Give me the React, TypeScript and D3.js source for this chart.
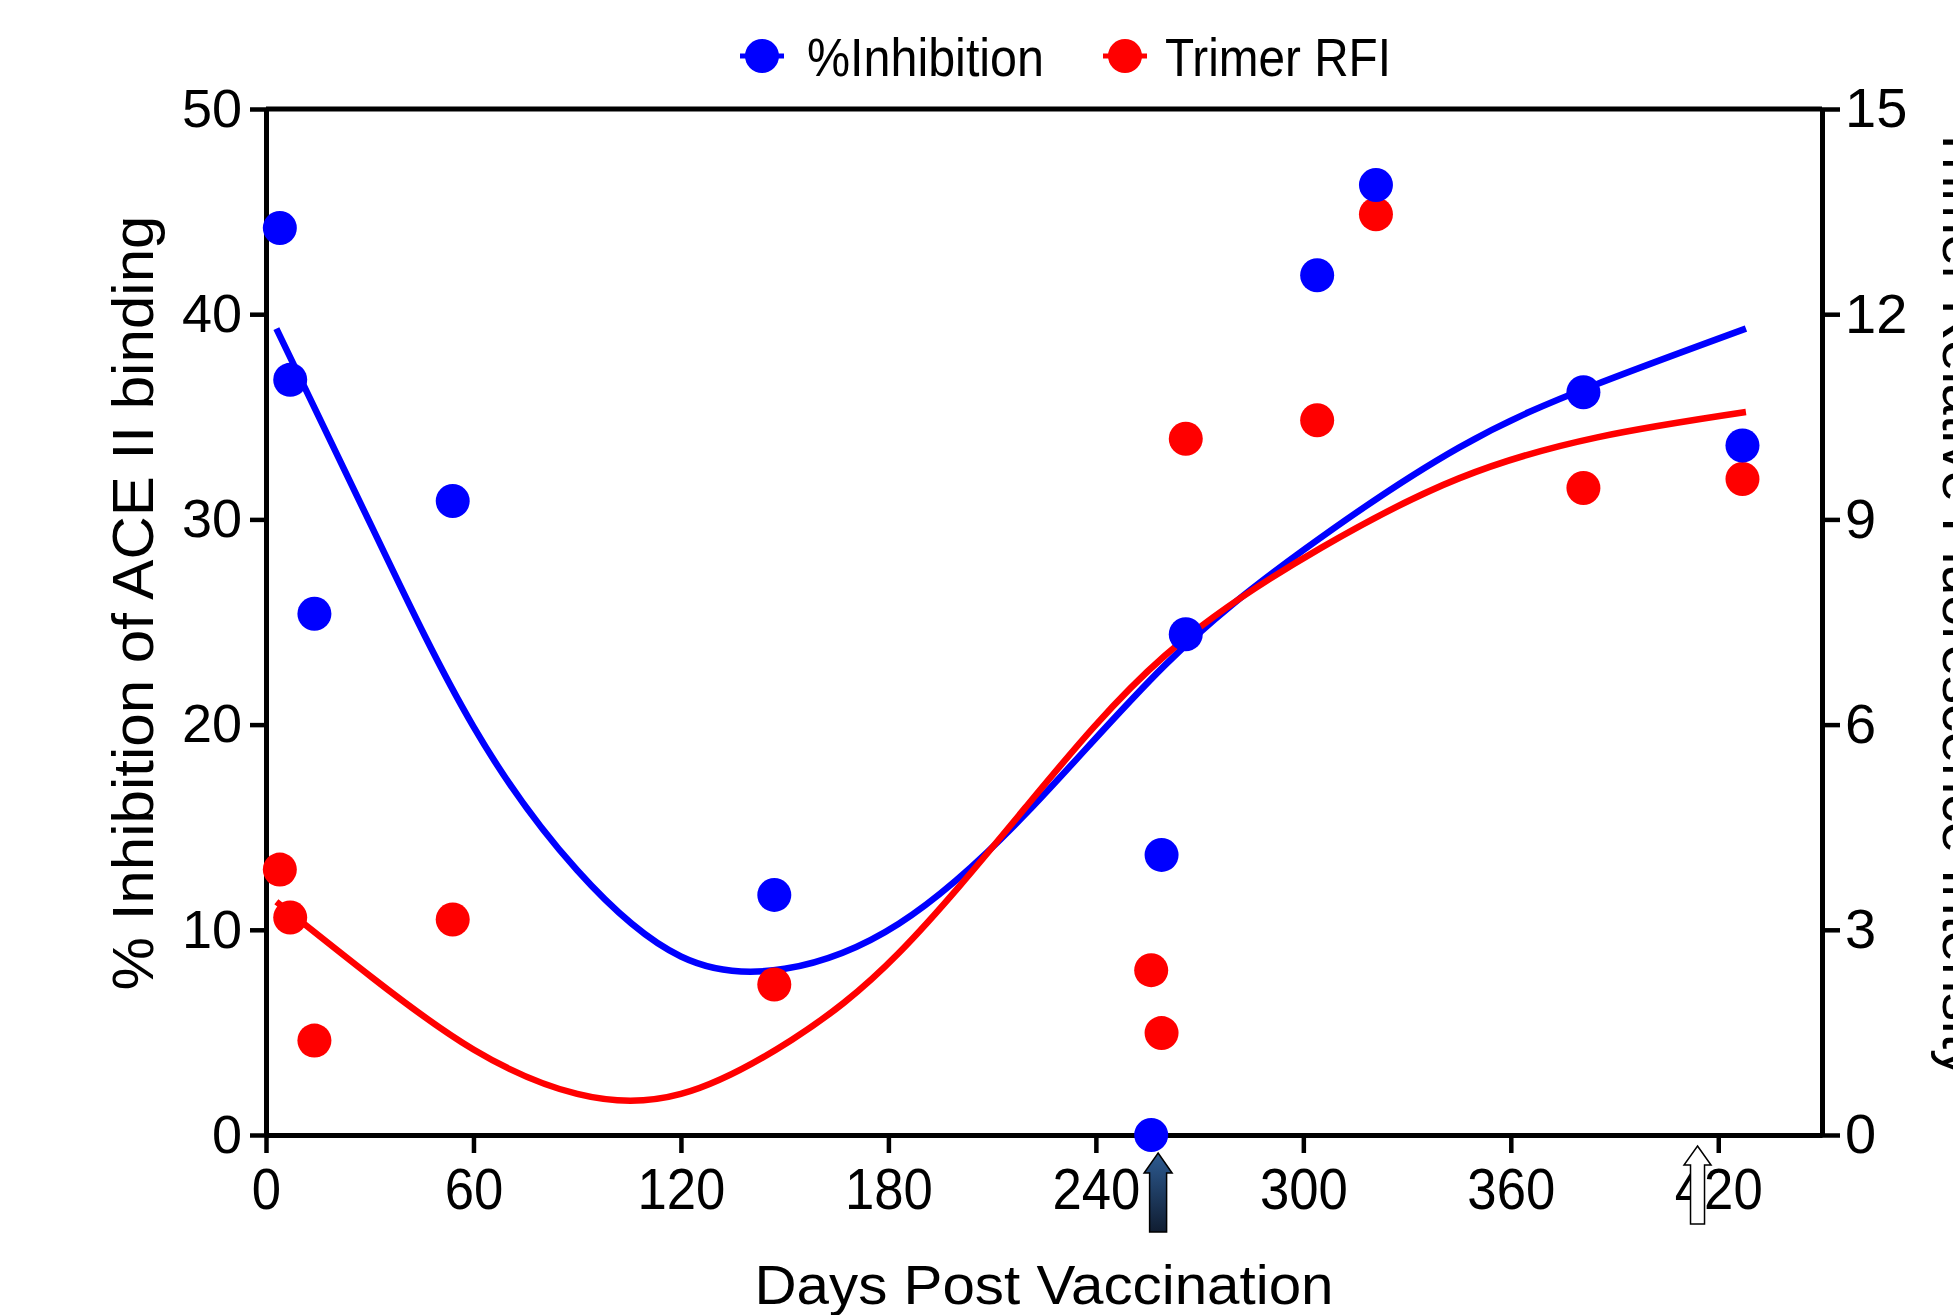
import { useEffect, useRef } from 'react';
import * as d3 from 'd3';

// measured points (days post vaccination)
const pointDays = [4, 7, 14, 54, 147, 256, 259, 266, 304, 321, 381, 427];
const inhibition = [44.2, 36.8, 25.4, 30.9, 11.7, 0, 13.65, 24.4, 41.9, 46.3, 36.2, 33.6];
const trimerRFI = [3.88, 3.18, 1.38, 3.15, 2.2, 2.41, 1.49, 10.18, 10.45, 13.46, 9.46, 9.59];

// fitted curves
const inhFitDays = [3, 31, 60, 90, 120, 150, 183, 220, 260, 300, 345, 385, 428];
const inhFitVals = [39.3, 29.5, 19.9, 12.9, 8.7, 8.1, 10.3, 15.7, 22.9, 28.5, 33.5, 36.6, 39.3];
const rfiFitDays = [3, 31, 60, 90, 120, 152, 183, 220, 260, 305, 345, 385, 428];
const rfiFitVals = [3.41, 2.29, 1.25, 0.6, 0.6, 1.39, 2.66, 4.81, 7.01, 8.58, 9.6, 10.2, 10.57];

// arrows under the x axis (booster doses)
const arrowDays = [258, 414];

const xTicks = [0, 60, 120, 180, 240, 300, 360, 420];
const leftTicks = [0, 10, 20, 30, 40, 50];
const rightTicks = [0, 3, 6, 9, 12, 15];

const FONT = '"Liberation Sans", Arial, Helvetica, sans-serif';
const BLUE = '#0000ff';
const RED = '#ff0000';

const App = () => {
  const ref = useRef<SVGSVGElement>(null);

  useEffect(() => {
    const svg = d3.select(ref.current);
    svg.selectAll('*').remove();

    const left = 266, right = 1822, top = 109, bottom = 1135;

    const x = d3.scaleLinear().domain([0, 450]).range([left, right]);
    const yL = d3.scaleLinear().domain([0, 50]).range([bottom, top]);
    const yR = d3.scaleLinear().domain([0, 15]).range([bottom, top]);

    const defs = svg.append('defs');
    const grad = defs.append('linearGradient').attr('id', 'arrowGrad')
      .attr('x1', 0).attr('y1', 0).attr('x2', 0).attr('y2', 1);
    grad.append('stop').attr('offset', '0%').attr('stop-color', '#2d5b92');
    grad.append('stop').attr('offset', '100%').attr('stop-color', '#101d31');

    // top frame line
    svg.append('line')
      .attr('x1', left).attr('x2', right).attr('y1', top).attr('y2', top)
      .attr('stroke', '#000').attr('stroke-width', 5);

    // left axis
    const gL = svg.append('g').attr('transform', `translate(${left},0)`)
      .call(d3.axisLeft(yL).tickValues(leftTicks).tickSize(16).tickSizeOuter(0).tickPadding(8));
    gL.select('.domain').attr('stroke-width', 5);
    gL.selectAll('.tick line').attr('stroke-width', 4.5);
    gL.selectAll('.tick text').style('font-family', FONT).style('font-size', '54px').attr('fill', '#000');

    // right axis
    const gR = svg.append('g').attr('transform', `translate(${right},0)`)
      .call(d3.axisRight(yR).tickValues(rightTicks).tickSize(18).tickSizeOuter(0).tickPadding(5));
    gR.select('.domain').attr('stroke-width', 5);
    gR.selectAll('.tick line').attr('stroke-width', 4.5);
    gR.selectAll('.tick text').style('font-family', FONT).style('font-size', '56px').attr('fill', '#000');

    // bottom axis
    const gX = svg.append('g').attr('transform', `translate(0,${bottom})`)
      .call(d3.axisBottom(x).tickValues(xTicks).tickSize(18).tickSizeOuter(0).tickPadding(15).tickFormat(d3.format('d')));
    gX.select('.domain').attr('stroke-width', 5);
    gX.selectAll('.tick line').attr('stroke-width', 4.5);
    gX.selectAll<SVGTextElement, number>('.tick text')
      .style('font-family', FONT).style('font-size', '58px').attr('fill', '#000')
      .attr('textLength', d => String(d).length * 29.3)
      .attr('lengthAdjust', 'spacingAndGlyphs');

    // fit curves
    const inhLine = d3.line<number>()
      .x((d, i) => x(inhFitDays[i]))
      .y(d => yL(d))
      .curve(d3.curveNatural);
    const rfiLine = d3.line<number>()
      .x((d, i) => x(rfiFitDays[i]))
      .y(d => yR(d))
      .curve(d3.curveNatural);

    svg.append('path').attr('d', inhLine(inhFitVals))
      .attr('fill', 'none').attr('stroke', BLUE).attr('stroke-width', 6.5);
    svg.append('path').attr('d', rfiLine(rfiFitVals))
      .attr('fill', 'none').attr('stroke', RED).attr('stroke-width', 6.5);

    // points: red first, blue on top
    svg.append('g').selectAll('circle').data(trimerRFI).enter().append('circle')
      .attr('cx', (d, i) => x(pointDays[i]))
      .attr('cy', d => yR(d))
      .attr('r', 17)
      .attr('fill', RED);
    svg.append('g').selectAll('circle').data(inhibition).enter().append('circle')
      .attr('cx', (d, i) => x(pointDays[i]))
      .attr('cy', d => yL(d))
      .attr('r', 17)
      .attr('fill', BLUE);

    // arrows
    const arrow = (cx: number, tip: number, end: number, headW: number, headH: number, shaftW: number) =>
      `M${cx},${tip} L${cx + headW},${tip + headH} L${cx + shaftW},${tip + headH} L${cx + shaftW},${end} ` +
      `L${cx - shaftW},${end} L${cx - shaftW},${tip + headH} L${cx - headW},${tip + headH} Z`;
    svg.append('path').attr('d', arrow(x(arrowDays[0]), 1153, 1232, 14, 20, 8.5))
      .attr('fill', 'url(#arrowGrad)').attr('stroke', '#000').attr('stroke-width', 1.5);
    svg.append('path').attr('d', arrow(x(arrowDays[1]), 1146, 1224, 13.5, 19, 7))
      .attr('fill', '#fff').attr('stroke', '#000').attr('stroke-width', 1.5);

    // axis titles
    svg.append('text').text('Days Post Vaccination')
      .attr('x', (left + right) / 2).attr('y', 1304)
      .attr('text-anchor', 'middle')
      .attr('textLength', 579).attr('lengthAdjust', 'spacingAndGlyphs')
      .style('font-family', FONT).style('font-size', '56px');

    svg.append('text').text('% Inhibition of ACE II binding')
      .attr('transform', 'translate(153,603) rotate(-90)')
      .attr('text-anchor', 'middle')
      .attr('textLength', 775).attr('lengthAdjust', 'spacingAndGlyphs')
      .style('font-family', FONT).style('font-size', '58px');

    // right title runs off the page edge, as in the original figure
    svg.append('text').text('Trimer Relative Fluorescence Intensity')
      .attr('transform', 'translate(1943,125) rotate(90)')
      .attr('text-anchor', 'start')
      .attr('textLength', 952).attr('lengthAdjust', 'spacingAndGlyphs')
      .style('font-family', FONT).style('font-size', '56px');

    // legend
    const legend = [
      { name: '%Inhibition', color: BLUE, cx: 762, tx: 807, w: 237 },
      { name: 'Trimer RFI', color: RED, cx: 1125, tx: 1165, w: 226 },
    ];
    const lg = svg.append('g').selectAll('g').data(legend).enter().append('g');
    lg.append('line')
      .attr('x1', d => d.cx - 22).attr('x2', d => d.cx + 22)
      .attr('y1', 56).attr('y2', 56)
      .attr('stroke', d => d.color).attr('stroke-width', 5);
    lg.append('circle').attr('cx', d => d.cx).attr('cy', 56).attr('r', 17).attr('fill', d => d.color);
    lg.append('text').text(d => d.name)
      .attr('x', d => d.tx).attr('y', 76)
      .attr('textLength', d => d.w).attr('lengthAdjust', 'spacingAndGlyphs')
      .style('font-family', FONT).style('font-size', '54px');
  }, []);

  return (
    <div>
      <svg
        ref={ref}
        width={1953}
        height={1315}
        style={{ position: 'absolute', left: 0, top: 0, background: '#fff' }}
      />
    </div>
  );
};

export default App;
